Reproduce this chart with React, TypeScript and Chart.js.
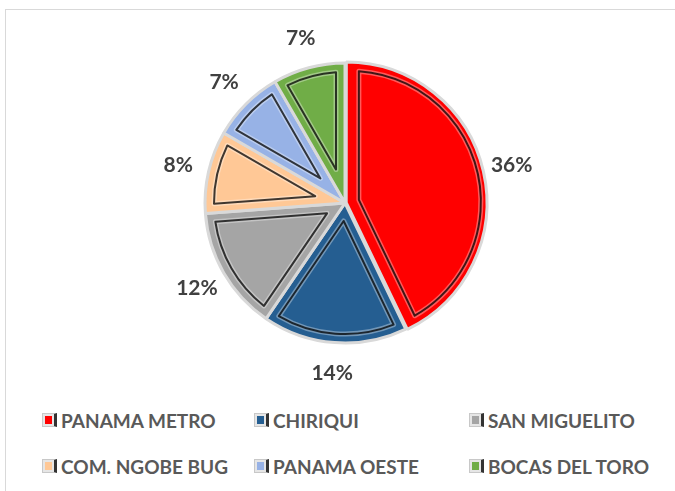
import React, { useEffect, useRef } from "react";
import { Chart, registerables } from "chart.js";

Chart.register(...registerables);

const categories = ["PANAMA METRO", "CHIRIQUI", "SAN MIGUELITO", "COM. NGOBE BUG", "PANAMA OESTE", "BOCAS DEL TORO"];
const values = [36, 14, 12, 8, 7, 7];
const pctLabels = ["36%", "14%", "12%", "8%", "7%", "7%"];
const colors = ["#FF0000", "#255E91", "#A5A5A5", "#FFC896", "#97B2E6", "#70AD47"];
const offsets = [5, 0, 0, 0, 0, 0];

const FONT = "Lato, 'Open Sans', sans-serif";

const bevelPlugin = {
  id: "bevel",
  afterDatasetDraw(chart: any) {
    const ctx = chart.ctx;
    const meta = chart.getDatasetMeta(0);
    meta.data.forEach((arc: any, i: number) => {
      const p = arc.getProps(["x", "y", "startAngle", "endAngle", "outerRadius"], true);
      const mid = (p.startAngle + p.endAngle) / 2;
      const half = (p.endAngle - p.startAngle) / 2;
      const off = offsets[i];
      const cx = p.x + Math.cos(mid) * off;
      const cy = p.y + Math.sin(mid) * off;
      const d = 9;
      const r = p.outerRadius - d;
      const apexDist = Math.min(d / Math.sin(half), 60);
      const da = Math.asin(d / r);
      ctx.save();
      ctx.beginPath();
      ctx.moveTo(cx + Math.cos(mid) * apexDist, cy + Math.sin(mid) * apexDist);
      ctx.arc(cx, cy, r, p.startAngle + da, p.endAngle - da);
      ctx.closePath();
      ctx.lineJoin = "round";
      ctx.strokeStyle = "rgba(255,255,255,0.35)";
      ctx.lineWidth = 5;
      ctx.stroke();
      ctx.strokeStyle = "rgba(0,0,0,0.75)";
      ctx.lineWidth = 2;
      ctx.stroke();
      ctx.restore();
    });
  },
  afterDatasetsDraw(chart: any) {
    const ctx = chart.ctx;
    const meta = chart.getDatasetMeta(0);
    ctx.save();
    ctx.font = `bold 21px ${FONT}`;
    ctx.fillStyle = "#404040";
    ctx.textAlign = "center";
    ctx.textBaseline = "middle";
    meta.data.forEach((arc: any, i: number) => {
      const p = arc.getProps(["x", "y", "startAngle", "endAngle", "outerRadius"], true);
      const mid = (p.startAngle + p.endAngle) / 2;
      const dist = p.outerRadius + 31;
      ctx.fillText(pctLabels[i], p.x + Math.cos(mid) * dist, p.y + Math.sin(mid) * dist);
    });
    ctx.restore();
  },
};

function LegendItem({ label, color }: { label: string; color: string }) {
  return (
    <div style={{ display: "flex", alignItems: "center", height: 22 }}>
      <span
        style={{
          display: "inline-block",
          width: 15,
          height: 14,
          boxSizing: "border-box",
          background: "#e6e6e6",
          border: "1px solid #c8c8c8",
          borderRight: "3px solid #333",
          padding: 2,
          marginRight: 4,
        }}
      >
        <span style={{ display: "block", width: "100%", height: "100%", background: color }} />
      </span>
      <span style={{ font: `bold 19px ${FONT}`, color: "#595959", whiteSpace: "nowrap" }}>{label}</span>
    </div>
  );
}

export default function App() {
  const ref = useRef<HTMLCanvasElement | null>(null);

  useEffect(() => {
    document.body.style.margin = "0";
    const chart = new Chart(ref.current as HTMLCanvasElement, {
      type: "pie",
      data: {
        labels: categories,
        datasets: [
          {
            data: values,
            backgroundColor: colors,
            borderColor: "#d9d9d9",
            borderWidth: 3,
            offset: offsets,
            radius: 140,
          } as any,
        ],
      },
      options: {
        animation: false,
        responsive: false,
        layout: { padding: { left: 15, right: 0, top: 0, bottom: 0 } },
        plugins: { legend: { display: false }, tooltip: { enabled: false } },
      },
      plugins: [bevelPlugin],
    });
    return () => chart.destroy();
  }, []);

  const cols = [42, 254, 469];
  const rows = [409, 455];

  return (
    <div style={{ position: "relative", width: 675, height: 491, overflow: "hidden", background: "#fff" }}>
      <div
        style={{
          position: "absolute",
          left: 5,
          top: 9,
          width: 700,
          height: 500,
          border: "1px solid #d9d9d9",
        }}
      />
      <canvas ref={ref} width={675} height={406} style={{ position: "absolute", left: 0, top: 0 }} />
      {categories.map((c, i) => (
        <div key={c} style={{ position: "absolute", left: cols[i % 3], top: rows[Math.floor(i / 3)] }}>
          <LegendItem label={c} color={colors[i]} />
        </div>
      ))}
    </div>
  );
}
